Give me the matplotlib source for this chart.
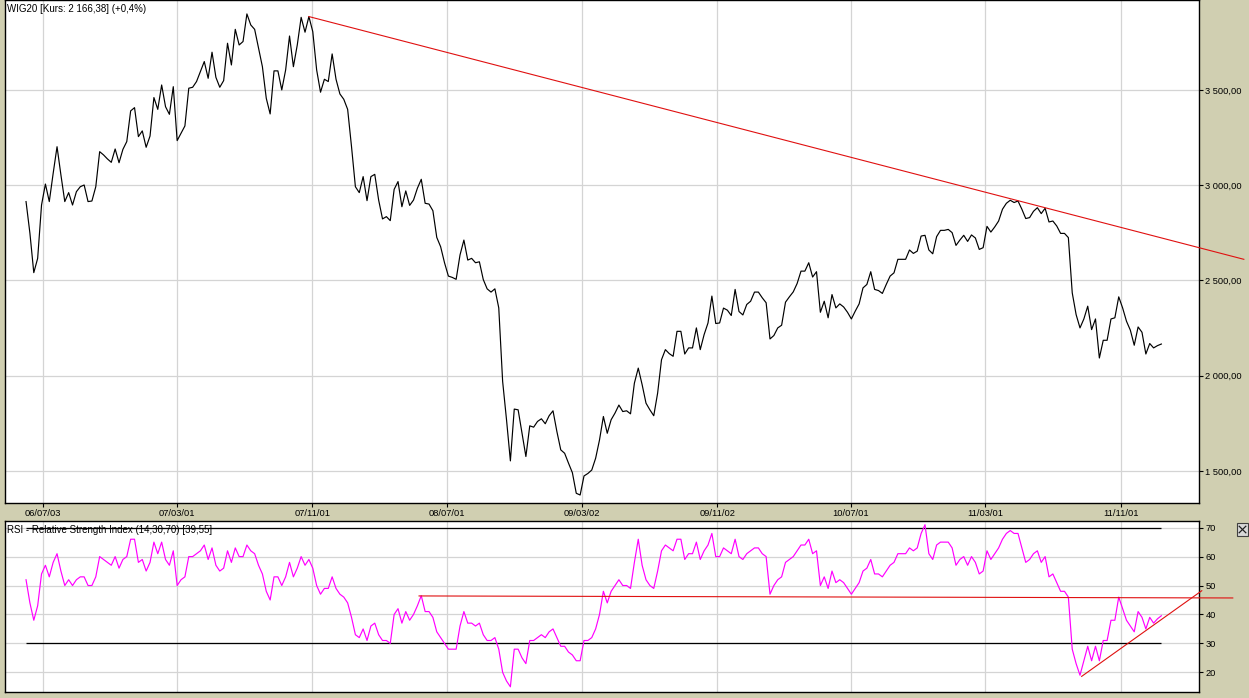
import matplotlib
matplotlib.use("Agg")
import matplotlib.pyplot as plt
from matplotlib.patches import Rectangle
from matplotlib.lines import Line2D
from matplotlib.ticker import FuncFormatter
import pandas as pd

# === Dane (notowania tygodniowe) ===
START_DATE = "2006-06-02"

wig20_close = [
    2914, 2748, 2541, 2616, 2896, 3006, 2914, 3062, 3202, 3054,
    2914, 2961, 2896, 2966, 2992, 3001, 2914, 2917, 2992, 3176,
    3159, 3138, 3120, 3190, 3118, 3188, 3229, 3390, 3407, 3255,
    3285, 3199, 3258, 3460, 3398, 3526, 3412, 3372, 3517, 3234,
    3272, 3311, 3509, 3514, 3544, 3596, 3649, 3561, 3698, 3566,
    3514, 3549, 3745, 3631, 3818, 3736, 3754, 3899, 3841, 3818,
    3719, 3622, 3456, 3374, 3600, 3600, 3500, 3605, 3783, 3622,
    3736, 3881, 3803, 3885, 3806, 3605, 3488, 3556, 3544, 3689,
    3556, 3479, 3451, 3398, 3202, 2992, 2961, 3045, 2919, 3045,
    3057, 2922, 2823, 2835, 2814, 2978, 3019, 2887, 2970, 2894,
    2922, 2984, 3031, 2905, 2901, 2866, 2726, 2677, 2593, 2523,
    2516, 2506, 2634, 2712, 2607, 2616, 2593, 2598, 2505, 2456,
    2439, 2456, 2356, 1970, 1769, 1553, 1825, 1821, 1698, 1576,
    1737, 1730, 1760, 1774, 1748, 1790, 1816, 1707, 1611, 1593,
    1541, 1491, 1383, 1374, 1474, 1487, 1505, 1567, 1663, 1786,
    1698, 1769, 1804, 1846, 1812, 1816, 1800, 1961, 2040, 1953,
    1856, 1821, 1790, 1909, 2084, 2137, 2116, 2102, 2233, 2233,
    2114, 2146, 2146, 2251, 2137, 2216, 2277, 2418, 2274, 2277,
    2355, 2344, 2316, 2453, 2337, 2319, 2374, 2391, 2439, 2439,
    2409, 2383, 2193, 2211, 2251, 2265, 2386, 2414, 2440, 2484,
    2549, 2549, 2593, 2518, 2546, 2333, 2391, 2304, 2426, 2356,
    2377, 2361, 2333, 2298, 2339, 2377, 2461, 2479, 2546, 2453,
    2447, 2432, 2479, 2523, 2540, 2611, 2611, 2611, 2660, 2642,
    2654, 2733, 2737, 2660, 2640, 2730, 2763, 2763, 2768, 2751,
    2684, 2712, 2737, 2705, 2739, 2723, 2663, 2672, 2784, 2754,
    2781, 2812, 2874, 2905, 2921, 2909, 2917, 2874, 2825, 2830,
    2863, 2882, 2851, 2879, 2807, 2812, 2786, 2747, 2747, 2725,
    2435, 2321, 2251, 2298, 2365, 2242, 2298, 2093, 2186, 2186,
    2298, 2304, 2414, 2356, 2286, 2239, 2160, 2256, 2228, 2114,
    2169, 2146, 2158, 2166.38,
]

rsi_values = [
    52, 44, 38, 43, 54, 57, 53, 58, 61, 55,
    50, 52, 50, 52, 53, 53, 50, 50, 53, 60,
    59, 58, 57, 60, 56, 59, 60, 66, 66, 58,
    59, 55, 58, 65, 61, 65, 59, 57, 62, 50,
    52, 53, 60, 60, 61, 62, 64, 59, 63, 57,
    55, 56, 62, 58, 63, 60, 60, 64, 62, 61,
    57, 54, 48, 45, 53, 53, 50, 53, 58, 53,
    56, 60, 57, 59, 56, 50, 47, 49, 49, 53,
    49, 47, 46, 44, 39, 33, 32, 35, 31, 36,
    37, 33, 31, 31, 30, 40, 42, 37, 41, 38,
    40, 43, 46.5, 41, 41, 39, 34, 32, 30, 28,
    28, 28, 36, 41, 37, 37, 36, 37, 33, 31,
    31, 32, 28, 20, 17, 15, 28, 28, 25, 23,
    31, 31, 32, 33, 32, 34, 35, 32, 29, 29,
    27, 26, 24, 24, 31, 31, 32, 35, 40, 48,
    44, 48, 50, 52, 50, 50, 49, 58, 66, 57,
    52, 50, 49, 55, 62, 64, 63, 62, 66, 66,
    59, 61, 61, 65, 59, 62, 64, 68, 60, 60,
    63, 62, 61, 66, 60, 59, 61, 62, 63, 63,
    61, 60, 47, 50, 52, 53, 58, 59, 60, 62,
    64, 64, 66, 61, 62, 50, 53, 49, 55, 51,
    52, 51, 49, 47, 49, 51, 55, 56, 59, 54,
    54, 53, 55, 57, 58, 61, 61, 61, 63, 62,
    63, 68, 71, 61, 59, 64, 65, 65, 65, 63,
    57, 59, 60, 57, 60, 58, 54, 55, 62, 59,
    61, 63, 66, 68, 69, 68, 68, 63, 58, 59,
    61, 62, 58, 60, 53, 54, 51, 48, 48, 46,
    28, 23, 19, 24, 29, 24, 29, 24, 31, 31,
    38, 38, 46, 42, 38, 36, 34, 41, 39, 35,
    39, 37, 38.5, 39.55,
]

# linie trendu narysowane na wykresie (data, wartość)
price_trend_dates = ["2007-10-26", "2012-06-10"]
price_trend_values = [3885, 2611]
rsi_flat_dates = ["2008-05-12", "2012-05-21"]
rsi_flat_values = [46.4, 45.7]
rsi_rise_dates = ["2011-08-22", "2012-03-26"]
rsi_rise_values = [18.6, 48.2]

rsi_level_hi = 70
rsi_level_lo = 30

tick_dates = ["2006-07-03", "2007-03-01", "2007-11-01", "2008-07-01", "2009-03-02",
              "2009-11-02", "2010-07-01", "2011-03-01", "2011-11-01"]
tick_labels = ["06/07/03", "07/03/01", "07/11/01", "08/07/01", "09/03/02",
               "09/11/02", "10/07/01", "11/03/01", "11/11/01"]
price_ticks = [1500, 2000, 2500, 3000, 3500]
rsi_ticks = [20, 30, 40, 50, 60, 70]

BG = "#d0cfb1"
GRID = "#d4d4d4"
RED = "#e01010"
FONT = "Liberation Sans"


def pl_format(v, pos=None):
    return f"{v:,.2f}".replace(",", " ").replace(".", ",")


def main():
    dates = pd.date_range(START_DATE, periods=len(wig20_close), freq="W-FRI")
    ticks = pd.to_datetime(tick_dates)

    plt.rcParams["font.family"] = [FONT, "DejaVu Sans"]

    fig = plt.figure(figsize=(12.49, 6.98), dpi=100, facecolor=BG)
    ax = fig.add_axes([5 / 1249, 1 - 503 / 698, 1194 / 1249, 503 / 698])
    ax2 = fig.add_axes([5 / 1249, 1 - 692 / 698, 1194 / 1249, 171 / 698])

    xmin = pd.Timestamp("2006-04-25")
    xmax = pd.Timestamp("2012-03-21")

    # --- panel ceny ---
    ax.plot(dates, wig20_close, color="black", lw=0.85, zorder=3)
    ax.plot(pd.to_datetime(price_trend_dates), price_trend_values, color=RED,
            lw=0.8, clip_on=False, zorder=4)
    ax.set_xlim(xmin, xmax)
    ax.set_ylim(1332, 3972)
    ax.set_yticks(price_ticks)
    ax.yaxis.set_major_formatter(FuncFormatter(pl_format))
    ax.set_xticks(ticks)
    ax.set_xticklabels(tick_labels)
    ax.yaxis.tick_right()
    ax.grid(True, color=GRID, lw=0.9)
    ax.set_axisbelow(True)
    ax.tick_params(axis="both", direction="out", length=3, width=0.8, labelsize=6.7,
                   pad=1.5, colors="black")
    ax.text(0.0017, 0.993, "WIG20 [Kurs: 2 166,38] (+0,4%)", transform=ax.transAxes,
            ha="left", va="top", fontsize=7)

    # --- panel RSI ---
    ax2.plot(dates, rsi_values, color="#ff00ff", lw=0.85, zorder=3)
    ax2.hlines([rsi_level_hi, rsi_level_lo], dates[0], dates[-1], color="black", lw=0.9, zorder=2)
    ax2.plot(pd.to_datetime(rsi_flat_dates), rsi_flat_values, color=RED, lw=0.8,
             clip_on=False, zorder=4)
    ax2.plot(pd.to_datetime(rsi_rise_dates), rsi_rise_values, color=RED, lw=0.8,
             clip_on=False, zorder=4)
    ax2.set_xlim(xmin, xmax)
    ax2.set_ylim(13.2, 72.3)
    ax2.set_yticks(rsi_ticks)
    ax2.set_xticks(ticks)
    ax2.set_xticklabels([])
    ax2.yaxis.tick_right()
    ax2.grid(True, color=GRID, lw=0.9)
    ax2.set_axisbelow(True)
    ax2.tick_params(axis="y", direction="out", length=3, width=0.8, labelsize=6.7, pad=1.5)
    ax2.tick_params(axis="x", length=0)
    ax2.text(0.0017, 0.975, "RSI - Relative Strength Index (14,30,70) [39,55]",
             transform=ax2.transAxes, ha="left", va="top", fontsize=7)

    for a in (ax, ax2):
        for s in a.spines.values():
            s.set_linewidth(1.0)

    # mały przycisk zamykania panelu RSI
    px, py, pw, ph = 1237 / 1249, 1 - 536 / 698, 11 / 1249, 13 / 698
    fig.patches.append(Rectangle((px, py), pw, ph, transform=fig.transFigure,
                                 facecolor="#d8d8d8", edgecolor="#404040", lw=0.8))
    fig.lines.append(Line2D([px + 0.2 * pw, px + 0.8 * pw], [py + 0.25 * ph, py + 0.75 * ph],
                            transform=fig.transFigure, color="#202020", lw=0.9))
    fig.lines.append(Line2D([px + 0.2 * pw, px + 0.8 * pw], [py + 0.75 * ph, py + 0.25 * ph],
                            transform=fig.transFigure, color="#202020", lw=0.9))

    fig.savefig("out.png", dpi=100, facecolor=BG)


if __name__ == "__main__":
    main()
